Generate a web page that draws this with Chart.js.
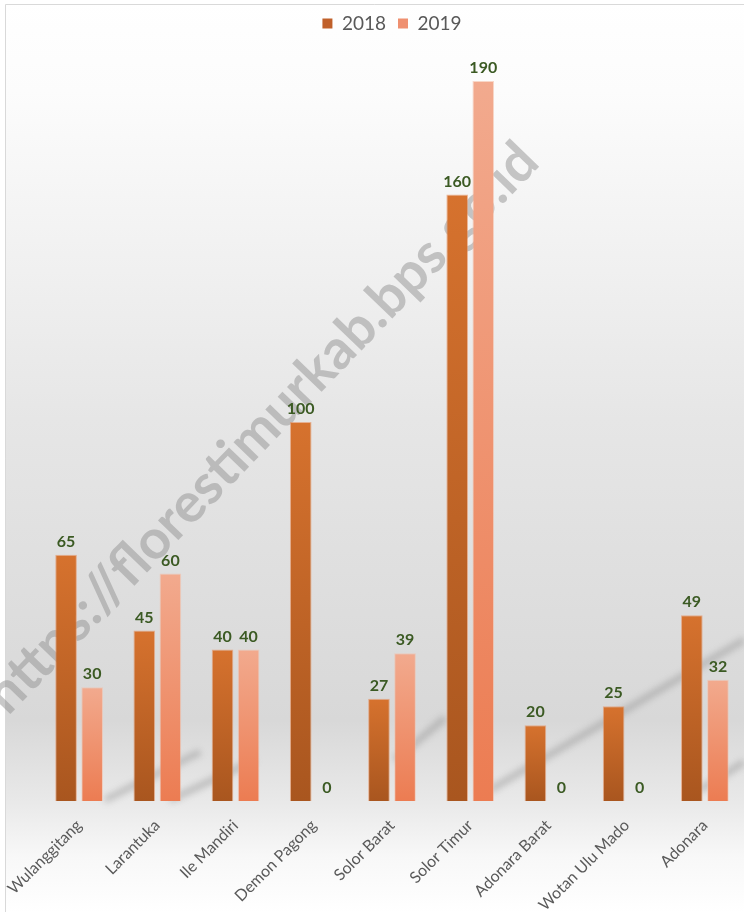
<!DOCTYPE html>
<html>
<head>
<meta charset="utf-8">
<script src="https://cdn.jsdelivr.net/npm/chart.js@4/dist/chart.umd.min.js"></script>
<style>
  html, body { margin: 0; padding: 0; background: #fff; }
  #wrap { width: 744px; height: 912px; position: relative; }
</style>
</head>
<body>
<div id="wrap"><canvas id="grafik"></canvas></div>
<script>
const kecamatan = ['Wulanggitang', 'Larantuka', 'Ile Mandiri', 'Demon Pagong', 'Solor Barat',
                   'Solor Timur', 'Adonara Barat', 'Wotan Ulu Mado', 'Adonara'];
const nilai2018 = [65, 45, 40, 100, 27, 160, 20, 25, 49];
const nilai2019 = [30, 60, 40, 0, 39, 190, 0, 0, 32];
const labelSeri = ['2018', '2019'];
const watermark = 'https://florestimurkab.bps.go.id';

// gradien per batang, atas -> bawah
function gradienBatang(ctx, atas, bawah) {
  const chart = ctx.chart;
  const area = chart.chartArea;
  if (!area) return atas;
  const y = chart.scales.y;
  const v = ctx.raw || 0;
  const y0 = y.getPixelForValue(v);
  const y1 = y.getPixelForValue(0);
  if (y1 - y0 < 1) return bawah;
  const g = chart.ctx.createLinearGradient(0, y0, 0, y1);
  g.addColorStop(0, atas);
  g.addColorStop(1, bawah);
  return g;
}

const latarPlugin = {
  id: 'latar',
  beforeDraw(chart) {
    const c = chart.ctx;
    const w = chart.width, h = chart.height;
    c.save();
    const g = c.createLinearGradient(0, 0, 0, h);
    g.addColorStop(0, '#ffffff');
    g.addColorStop(0.10, '#fcfcfc');
    g.addColorStop(0.46, '#e6e6e6');
    g.addColorStop(0.79, '#d8d8d8');
    g.addColorStop(0.88, '#e9e9e9');
    g.addColorStop(0.94, '#f8f8f8');
    g.addColorStop(1, '#ffffff');
    c.fillStyle = g;
    c.fillRect(0, 0, w, h);
    c.fillStyle = '#ffffff';
    c.fillRect(0, 0, 5, h);
    c.fillRect(0, 0, w, 4);
    c.strokeStyle = '#d9d9d9';
    c.lineWidth = 1;
    c.beginPath();
    c.moveTo(5.5, h); c.lineTo(5.5, 4.5); c.lineTo(w, 4.5);
    c.stroke();

    // bayangan diagonal
    c.filter = 'blur(3px)';
    c.strokeStyle = 'rgba(120,120,120,0.35)';
    c.lineWidth = 7;
    const garis = [[105, 800, 200, 752], [170, 800, 255, 760], [395, 760, 445, 718], [490, 790, 744, 640], [700, 790, 744, 762]];
    garis.forEach(p => { c.beginPath(); c.moveTo(p[0], p[1]); c.lineTo(p[2], p[3]); c.stroke(); });
    c.filter = 'none';

    // watermark
    c.translate(262, 428);
    c.rotate(-46 * Math.PI / 180);
    c.font = 'bold 55px Lato';
    c.fillStyle = 'rgba(145,145,145,0.5)';
    c.textAlign = 'center';
    c.textBaseline = 'middle';
    c.fillText(watermark, 0, 0);
    c.restore();
  }
};

const labelNilai = {
  id: 'labelNilai',
  afterDatasetsDraw(chart) {
    const c = chart.ctx;
    c.save();
    c.font = 'bold 16px Lato';
    c.fillStyle = '#3b5a23';
    c.textAlign = 'center';
    c.textBaseline = 'bottom';
    chart.data.datasets.forEach((ds, i) => {
      chart.getDatasetMeta(i).data.forEach((bar, j) => {
        c.fillText(String(ds.data[j]), bar.x, bar.y - 5);
      });
    });
    c.restore();
  }
};

new Chart(document.getElementById('grafik'), {
  type: 'bar',
  data: {
    labels: kecamatan,
    datasets: [
      {
        label: labelSeri[0],
        data: nilai2018,
        backgroundColor: ctx => gradienBatang(ctx, '#d6722e', '#a9561f'),
        borderColor: 'rgba(230,140,90,0.6)',
        borderWidth: 1
      },
      {
        label: labelSeri[1],
        data: nilai2019,
        backgroundColor: ctx => gradienBatang(ctx, '#f2aa8e', '#ec7c52'),
        borderColor: 'rgba(245,190,165,0.6)',
        borderWidth: 1
      }
    ]
  },
  options: {
    responsive: true,
    maintainAspectRatio: false,
    animation: false,
    categoryPercentage: 0.667,
    barPercentage: 0.83,
    layout: { padding: { top: 2, right: 0, left: 40, bottom: 0 } },
    plugins: {
      legend: {
        position: 'top',
        labels: {
          font: { family: 'Lato', size: 19 },
          color: '#595959',
          boxWidth: 10,
          boxHeight: 10,
          padding: 12,
          generateLabels(chart) {
            const warna = ['#c0602a', '#ef9070'];
            return chart.data.datasets.map((ds, i) => ({
              text: ds.label,
              fillStyle: warna[i],
              strokeStyle: warna[i],
              lineWidth: 0,
              fontColor: '#595959',
              datasetIndex: i
            }));
          }
        }
      },
      tooltip: { enabled: false }
    },
    scales: {
      x: {
        grid: { display: false },
        border: { display: false },
        afterFit(scale) { scale.height = 111; },
        ticks: {
          color: '#595959',
          font: { family: 'Lato', size: 16 },
          maxRotation: 45,
          minRotation: 45,
          padding: 7
        }
      },
      y: {
        display: false,
        min: 0,
        max: 200
      }
    }
  },
  plugins: [latarPlugin, labelNilai]
});
</script>
</body>
</html>
